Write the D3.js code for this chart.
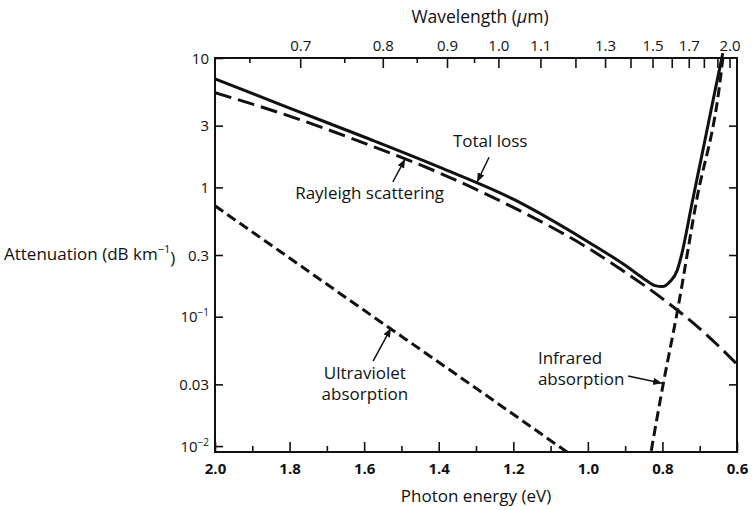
<!DOCTYPE html>
<html>
<head>
<meta charset="utf-8">
<script src="https://cdn.jsdelivr.net/npm/d3@7"></script>
<style>
  body { margin: 0; background: #fff; }
  text { font-family: "Open Sans", Lato, sans-serif; fill: #111; }
</style>
</head>
<body>
<div id="chart"></div>
<script>
// photon energy (eV) against attenuation (dB/km)
const rayleighE = [2.0, 1.8, 1.6, 1.4, 1.2, 1.0, 0.9, 0.8, 0.7, 0.6];
const rayleighVal = [5.4, 3.55, 2.2, 1.3, 0.70, 0.34, 0.221, 0.138, 0.081, 0.043];
const uvE = [2.0, 1.8, 1.6, 1.4, 1.2, 1.05];
const uvVal = [0.72, 0.284, 0.112, 0.0445, 0.0176, 0.00875];
const irE = [0.83, 0.80, 0.76, 0.71, 0.643, 0.638];
const irVal = [0.0092, 0.028, 0.11, 0.75, 7.5, 10];
const totalE = [2.0, 1.8, 1.6, 1.4, 1.2, 1.0, 0.9, 0.85, 0.82, 0.80, 0.78, 0.76, 0.75, 0.72, 0.69, 0.66, 0.638];
const totalVal = [6.9, 4.1, 2.45, 1.44, 0.81, 0.38, 0.25, 0.197, 0.174, 0.171, 0.186, 0.23, 0.29, 0.77, 2.03, 5.4, 10.9];

// axes
const energyLabels = [2.0, 1.8, 1.6, 1.4, 1.2, 1.0, 0.8, 0.6];
const energyMinor = [1.9, 1.7, 1.5, 1.3, 1.1, 0.9, 0.7];
const wavelengthTicks = [0.7, 0.8, 0.9, 1.0, 1.1, 1.2, 1.3, 1.4, 1.5, 1.6, 1.7, 1.8, 1.9, 2.0];
const wavelengthMinor = [0.65, 0.75, 0.85, 0.95];
const wavelengthLabels = [0.7, 0.8, 0.9, 1.0, 1.1, 1.3, 1.5, 1.7, 2.0];
const yTicks = [10, 3, 1, 0.3, 0.1, 0.03, 0.01];
const yLabels = [["10"], ["3"], ["1"], ["0.3"], ["10", "−1"], ["0.03"], ["10", "−2"]];

const width = 752, height = 510;
const margin = { left: 215, right: 15, top: 58, bottom: 58 };
const hc = 1.24; // eV·µm

const svg = d3.select("#chart").append("svg")
  .attr("width", width).attr("height", height);

const x = d3.scaleLinear().domain([2.0, 0.6]).range([margin.left, width - margin.right]);
const y = d3.scaleLog().domain([0.009, 10]).range([height - margin.bottom, margin.top]);

svg.append("clipPath").attr("id", "plot")
  .append("rect")
  .attr("x", x(2.0)).attr("y", y(10))
  .attr("width", x(0.6) - x(2.0)).attr("height", y(0.009) - y(10));

// frame
svg.append("rect")
  .attr("x", x(2.0)).attr("y", y(10))
  .attr("width", x(0.6) - x(2.0)).attr("height", y(0.009) - y(10))
  .attr("fill", "none").attr("stroke", "#111").attr("stroke-width", 2);

const styleAxis = (g) => {
  g.select(".domain").remove();
  g.selectAll("line").attr("stroke", "#111").attr("stroke-width", 1.6);
};

// bottom
svg.append("g")
  .attr("transform", `translate(0,${y(0.009)})`)
  .call(d3.axisBottom(x).tickValues(energyLabels).tickSize(-10).tickPadding(11).tickFormat(d3.format(".1f")))
  .call(styleAxis)
  .selectAll("text").attr("font-size", 15).attr("font-weight", "bold");
svg.append("g")
  .attr("transform", `translate(0,${y(0.009)})`)
  .call(d3.axisBottom(x).tickValues(energyMinor).tickSize(-6).tickFormat(""))
  .call(styleAxis);

// top, wavelength
svg.append("g")
  .attr("transform", `translate(0,${y(10)})`)
  .call(d3.axisTop(x).tickValues(wavelengthTicks.map((l) => hc / l)).tickSize(-10).tickPadding(7)
    .tickFormat((e, i) => wavelengthLabels.includes(wavelengthTicks[i]) ? d3.format(".1f")(wavelengthTicks[i]) : ""))
  .call(styleAxis)
  .selectAll("text").attr("font-size", 15);
svg.append("g")
  .attr("transform", `translate(0,${y(10)})`)
  .call(d3.axisTop(x).tickValues(wavelengthMinor.map((l) => hc / l)).tickSize(-5).tickFormat(""))
  .call(styleAxis);

// left
const left = svg.append("g")
  .attr("transform", `translate(${x(2.0)},0)`)
  .call(d3.axisLeft(y).tickValues(yTicks).tickSize(-8).tickPadding(6).tickFormat(""))
  .call(styleAxis);
left.selectAll(".tick text").each(function (d, i) {
  const t = d3.select(this).attr("font-size", 15).attr("dy", "0.35em");
  const parts = yLabels[i];
  t.append("tspan").text(parts[0]);
  if (parts[1]) {
    t.append("tspan").text(parts[1]).attr("font-size", 10).attr("dy", "-0.6em");
  }
});

// right
svg.append("g")
  .attr("transform", `translate(${x(0.6)},0)`)
  .call(d3.axisRight(y).tickValues(yTicks.slice(1, 6)).tickSize(-8).tickFormat(""))
  .call(styleAxis);

// axis titles
svg.append("text")
  .attr("x", (x(2.0) + x(0.6)) / 2 + 4).attr("y", 23)
  .attr("text-anchor", "middle").attr("font-size", 17.5)
  .html("Wavelength (<tspan font-style='italic'>µ</tspan>m)");
svg.append("text")
  .attr("x", (x(2.0) + x(0.6)) / 2).attr("y", 502)
  .attr("text-anchor", "middle").attr("font-size", 17)
  .text("Photon energy (eV)");
const ylab = svg.append("text")
  .attr("x", 4).attr("y", y(0.3) + 5).attr("font-size", 17);
ylab.append("tspan").text("Attenuation (dB km");
ylab.append("tspan").text("−1").attr("font-size", 11).attr("dy", "-0.6em");
ylab.append("tspan").text(")").attr("dy", "0.6em");

// curves
const line = d3.line()
  .x((d) => x(d[0]))
  .y((d) => y(d[1]))
  .curve(d3.curveMonotoneX);

const series = [
  { E: rayleighE, v: rayleighVal, dash: "17,7", clip: true },
  { E: uvE, v: uvVal, dash: "10,5", clip: true },
  { E: irE, v: irVal, dash: "10,5", clip: true },
  { E: totalE, v: totalVal, dash: null, clip: false },
];

series.forEach((s) => {
  svg.append("path")
    .datum(s.E.map((e, i) => [e, s.v[i]]))
    .attr("d", line)
    .attr("fill", "none")
    .attr("stroke", "#111")
    .attr("stroke-width", 3)
    .attr("stroke-dasharray", s.dash)
    .attr("clip-path", s.clip ? "url(#plot)" : null);
});

// annotations, anchored in data units
svg.append("defs").append("marker")
  .attr("id", "head").attr("viewBox", "0 0 10 10")
  .attr("refX", 10).attr("refY", 5)
  .attr("markerWidth", 9).attr("markerHeight", 9)
  .attr("markerUnits", "userSpaceOnUse")
  .attr("orient", "auto")
  .append("path").attr("d", "M0,1 L10,5 L0,9 z").attr("fill", "#111");

const notes = [
  { lines: ["Total loss"], at: [1.362, 2.05], from: [1.265, 1.71], to: [1.297, 1.1] },
  { lines: ["Rayleigh scattering"], at: [1.785, 0.812], from: [1.523, 1.10], to: [1.49, 1.66] },
  { lines: ["Ultraviolet", "absorption"], at: [1.598, 0.0329], from: [1.576, 0.0454], to: [1.528, 0.0817], anchor: "middle" },
  { lines: ["Infrared", "absorption"], at: [1.134, 0.043], from: [0.892, 0.0348], to: [0.801, 0.0306] },
];

notes.forEach((n) => {
  const t = svg.append("text")
    .attr("x", x(n.at[0])).attr("y", y(n.at[1]))
    .attr("font-size", 17)
    .attr("text-anchor", n.anchor || "start");
  n.lines.forEach((l, i) => {
    t.append("tspan").attr("x", x(n.at[0])).attr("dy", i ? 21 : 0).text(l);
  });
  svg.append("line")
    .attr("x1", x(n.from[0])).attr("y1", y(n.from[1]))
    .attr("x2", x(n.to[0])).attr("y2", y(n.to[1]))
    .attr("stroke", "#111").attr("stroke-width", 1.5)
    .attr("marker-end", "url(#head)");
});
</script>
</body>
</html>
